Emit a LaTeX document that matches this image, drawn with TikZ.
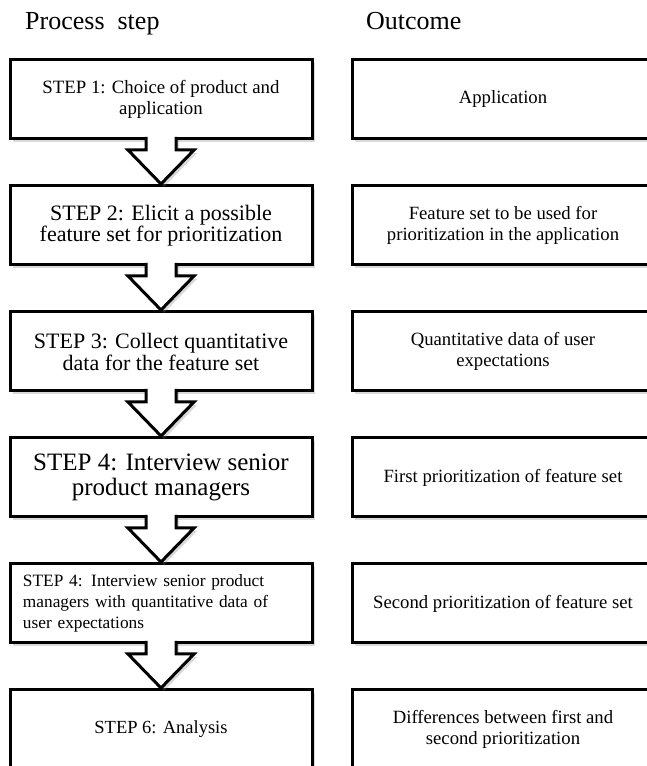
\documentclass[tikz,border=0pt]{standalone}
\usepackage{fontspec}
\setmainfont{Liberation Serif}
\usetikzlibrary{positioning}
\usetikzlibrary{calc}
\usetikzlibrary{shadows}

\begin{document}
\begin{tikzpicture}[x=1pt, y=1pt, node distance=47pt and 40pt,
stepbox/.style={draw, line width=3pt, fill=white, minimum width=302pt,
minimum height=79pt, inner sep=0pt, outer sep=0pt, align=center,
drop shadow={shadow xshift=3pt, shadow yshift=-3pt, opacity=.3}},
outbox/.style={stepbox, font=\fontsize{18.7}{21}\selectfont},
head/.style={anchor=base west, inner sep=0pt, font=\fontsize{26}{30}\selectfont},
blockarrow/.style={draw, line width=3pt, fill=white,
drop shadow={shadow xshift=3pt, shadow yshift=-3pt, opacity=.3}}]
\useasboundingbox (0,0) rectangle (647,766);
\node [head] (hstep) at (25,736) {Process\ \ step};
\node [head] (hout) at (366,736) {Outcome};
\node [stepbox, font=\fontsize{18.8}{21}\selectfont] (s1) at (161,666.5)
{STEP 1: Choice of product and\\application};
\node [stepbox, font=\fontsize{22}{21}\selectfont, below=of s1] (s2)
{STEP 2: Elicit a possible\\feature set for prioritization};
\node [stepbox, font=\fontsize{22}{22}\selectfont, below=of s2] (s3)
{STEP 3: Collect quantitative\\data for the feature set};
\node [stepbox, font=\fontsize{25}{25}\selectfont, below=of s3] (s4)
{STEP 4: Interview senior\\product managers};
\node [stepbox, font=\fontsize{17.3}{21}\selectfont, below=of s4, align=left, text width=276pt] (s5)
{STEP 4: Interview senior product\\managers with quantitative data of\\user expectations};
\node [stepbox, font=\fontsize{18.5}{22}\selectfont, below=of s5] (s6)
{STEP 6: Analysis};
\node [outbox, right=of s1] (o1) {Application};
\node [outbox, right=of s2] (o2) {Feature set to be used for\\prioritization in the application};
\node [outbox, right=of s3] (o3) {Quantitative data of user\\expectations};
\node [outbox, right=of s4] (o4) {First prioritization of feature set};
\node [outbox, right=of s5] (o5) {Second prioritization of feature set};
\node [outbox, right=of s6] (o6) {Differences between first and\\second prioritization};
\foreach \a/\b in {s1/s2,s2/s3,s3/s4,s4/s5,s5/s6}
\draw [blockarrow] ($(\a.south)+(-15,2)$) -- ($(\b.north)+(-15,36)$)
-- ($(\b.north)+(-33,36)$) -- ($(\b.north)+(0,2)$) -- ($(\b.north)+(33,36)$)
-- ($(\b.north)+(15,36)$) -- ($(\a.south)+(15,2)$);
\end{tikzpicture}
\end{document}
